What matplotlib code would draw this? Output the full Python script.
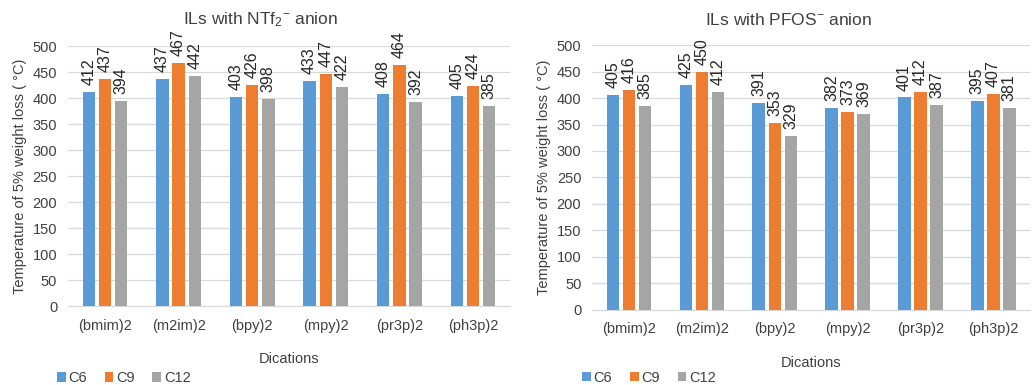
import numpy as np
import matplotlib
matplotlib.use("Agg")
import matplotlib.pyplot as plt

plt.rcParams['font.family'] = ['Liberation Sans', 'DejaVu Sans']
plt.rcParams['mathtext.fontset'] = 'custom'
plt.rcParams['mathtext.rm'] = 'Liberation Sans'
plt.rcParams['mathtext.it'] = 'Liberation Sans'

cations = ['(bmim)2', '(m2im)2', '(bpy)2', '(mpy)2', '(pr3p)2', '(ph3p)2']
series = ['C6', 'C9', 'C12']
colors = ['#5B9BD5', '#ED7D31', '#A5A5A5']

ntf2_c6 = [412, 437, 403, 433, 408, 405]
ntf2_c9 = [437, 467, 426, 447, 464, 424]
ntf2_c12 = [394, 442, 398, 422, 392, 385]

pfos_c6 = [405, 425, 391, 382, 401, 395]
pfos_c9 = [416, 450, 353, 373, 412, 407]
pfos_c12 = [385, 412, 329, 369, 387, 381]

# title, data, axes rect, title x, legend x/y offset
panels = [
    (r'ILs with NTf$_2$$^{-}$ anion', [ntf2_c6, ntf2_c9, ntf2_c12],
     [0.066, 0.205, 0.427, 0.675], 0.252, -0.026, -0.277),
    (r'ILs with PFOS$^{-}$ anion', [pfos_c6, pfos_c9, pfos_c12],
     [0.573, 0.195, 0.423, 0.688], 0.763, -0.024, -0.257),
]

txt = '#404040'
fig = plt.figure(figsize=(10.34, 3.85), dpi=100)
x = np.arange(len(cations))
width = 0.17
step = 0.22

for title, data, rect, tx, lx, ly in panels:
    ax = fig.add_axes(rect)
    for i, (name, vals, col) in enumerate(zip(series, data, colors)):
        bars = ax.bar(x + (i - 1) * step, vals, width, color=col, label=name, zorder=3)
        ax.bar_label(bars, labels=[str(v) for v in vals], rotation=90,
                     padding=5, fontsize=11.5, color='#262626')
    ax.set_xlim(-0.5, len(cations) - 0.5)
    ax.set_ylim(0, 500)
    ax.set_yticks(range(0, 501, 50))
    ax.set_xticks(x)
    ax.set_xticklabels(cations)
    ax.grid(axis='y', color='#D9D9D9', linewidth=0.9, zorder=0)
    for s in ['top', 'right', 'left']:
        ax.spines[s].set_visible(False)
    ax.spines['bottom'].set_color('#D9D9D9')
    ax.tick_params(axis='both', length=0, labelsize=10.5, colors=txt)
    ax.tick_params(axis='x', pad=9)
    ax.tick_params(axis='y', pad=8)
    fig.text(tx, 0.948, title, ha='center', va='center', fontsize=12.5, color=txt)
    ax.set_xlabel('Dications', fontsize=10.5, color=txt, labelpad=14)
    ax.set_ylabel('Temperature of 5% weight loss ( °C)', fontsize=10.5,
                  color=txt, labelpad=4)
    ax.legend(loc='center left', bbox_to_anchor=(lx, ly), ncol=3,
              frameon=False, fontsize=10.5, handlelength=0.6, handleheight=0.6,
              handletextpad=0.2, columnspacing=1.2, labelcolor=txt,
              borderpad=0, borderaxespad=0)

fig.savefig('out.png', dpi=100)
